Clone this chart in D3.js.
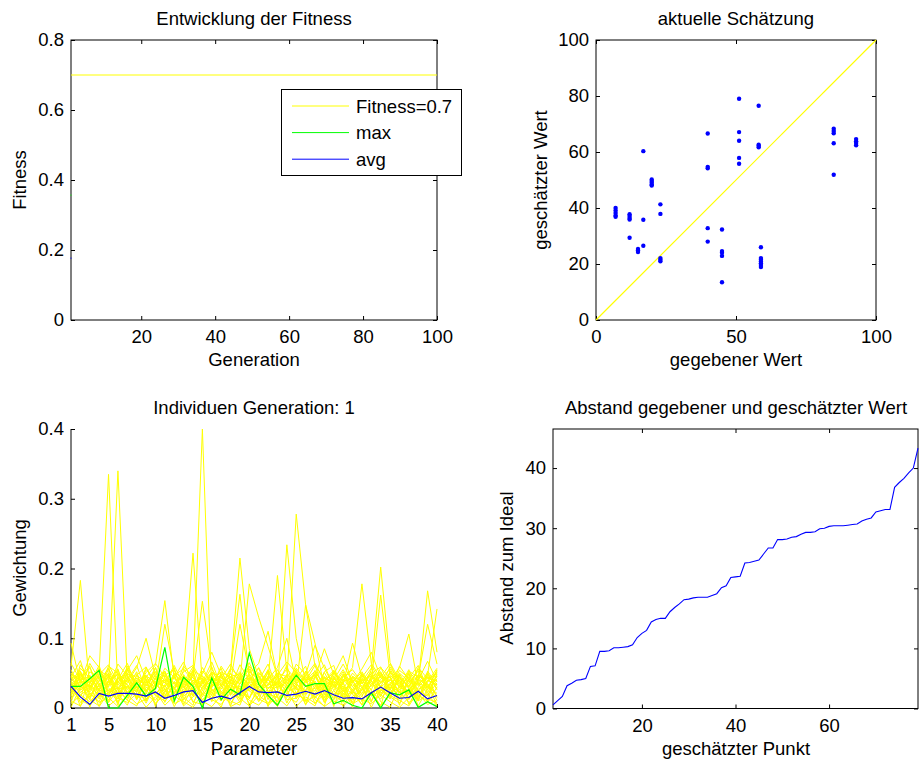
<!DOCTYPE html>
<html><head><meta charset="utf-8">
<script src="https://cdn.jsdelivr.net/npm/d3@7"></script>
<style>
body{margin:0;background:#fff}
svg text{font-family:"Liberation Sans",Arial,Helvetica,sans-serif;fill:#000}
</style>
</head><body>
<svg id="c" width="920" height="763"></svg>
<script>
// ---------- Data: top-left (Fitness) ----------
const fitnessGenDomain = [1, 100];
const fitnessTarget = 0.7;
const fitnessMaxHistory = [0.357];
const fitnessAvgHistory = [0.177];
const fitnessXTicks = [20, 40, 60, 80, 100];
const fitnessYTicks = [0, 0.2, 0.4, 0.6, 0.8];
const legendLabels = ["Fitness=0.7", "max", "avg"];

// ---------- Data: top-right (scatter) ----------
const givenValues = [
  7,7,7,7,7, 12,12,12,12,12, 15,15,15, 16.9,16.9,16.9, 19.9,19.9,19.9,19.9,19.9,
  23,23,23,23,23, 39.9,39.9,39.9,39.9,39.9, 45,45,45,45,45, 51.1,51.1,51.1,51.1,51.1,
  58.1,58.1,58.1,58.1, 58.9,58.9,58.9,58.9,58.9,58.9,58.9, 84.9,84.9,84.9,84.9,84.9,
  92.9,92.9,92.9,92.9];
const estimatedValues = [
  40.0,39.1,38.2,37.3,36.9, 37.8,37.1,36.4,35.9,29.4, 25.4,24.8,24.3, 60.3,35.8,26.5, 50.2,49.6,49.0,48.4,48.0,
  41.3,37.9,22.1,21.5,21.0, 66.6,54.7,54.2,32.8,28.0, 32.3,24.6,24.0,22.9,13.5, 79.0,67.1,64.0,57.9,55.8,
  76.5,62.6,62.2,61.7, 26.0,22.1,21.5,20.9,20.3,19.6,18.9, 68.3,67.5,66.7,63.1,51.9,
  64.6,63.8,63.2,62.4];
const scatterXTicks = [0, 50, 100];
const scatterYTicks = [0, 20, 40, 60, 80, 100];

// ---------- Data: bottom-left (individuals) ----------
const parameterXTicks = [1, 5, 10, 15, 20, 25, 30, 35, 40];
const weightYTicks = [0, 0.1, 0.2, 0.3, 0.4];
const individuals = [
[.021,.034,.012,.045,.008,.027,.031,.016,.042,.005,.024,.037,.019,.050,.400,.022,.011,.036,.028,.014,.047,.025,.009,.033,.018,.041,.006,.029,.038,.015,.023,.044,.010,.032,.020,.046,.013,.027,.035,.017],
[.045,.018,.030,.052,.335,.026,.011,.040,.023,.058,.014,.032,.047,.008,.029,.043,.020,.035,.012,.049,.027,.016,.039,.024,.055,.010,.031,.044,.019,.037,.006,.028,.050,.021,.034,.013,.042,.025,.017,.048],
[.030,.048,.022,.009,.038,.340,.041,.015,.033,.027,.050,.012,.036,.044,.020,.031,.057,.018,.042,.025,.011,.046,.029,.037,.016,.053,.034,.008,.043,.024,.039,.019,.032,.051,.014,.045,.028,.010,.040,.033],
[.012,.039,.046,.026,.019,.043,.028,.052,.010,.036,.031,.045,.017,.029,.038,.013,.048,.024,.034,.060,.020,.035,.046,.040,.278,.148,.093,.030,.015,.041,.026,.050,.018,.037,.045,.022,.033,.011,.049,.027],
[.055,.026,.033,.018,.047,.021,.060,.034,.025,.043,.008,.038,.029,.052,.016,.040,.032,.019,.044,.027,.051,.036,.022,.234,.100,.038,.047,.021,.035,.012,.046,.031,.040,.016,.053,.029,.024,.042,.019,.036],
[.037,.051,.015,.040,.029,.013,.045,.022,.058,.031,.042,.026,.054,.222,.035,.049,.017,.041,.023,.038,.030,.055,.014,.027,.044,.033,.019,.051,.025,.008,.040,.035,.052,.028,.017,.043,.031,.056,.022,.046],
[.024,.040,.058,.031,.045,.019,.036,.049,.013,.027,.053,.020,.041,.034,.046,.025,.030,.055,.215,.085,.044,.028,.037,.015,.052,.039,.061,.024,.042,.030,.020,.048,.035,.027,.013,.050,.038,.044,.029,.054],
[.048,.022,.035,.061,.017,.044,.026,.038,.047,.020,.033,.058,.011,.040,.028,.052,.034,.045,.016,.039,.057,.023,.031,.048,.036,.018,.043,.062,.029,.047,.038,.025,.055,.202,.065,.040,.021,.034,.046,.031],
[.018,.062,.041,.024,.056,.033,.049,.012,.037,.046,.022,.044,.030,.017,.053,.036,.045,.028,.050,.013,.042,.040,.190,.052,.026,.045,.031,.039,.054,.023,.035,.016,.047,.030,.059,.037,.020,.041,.033,.011],
[.060,.183,.027,.049,.036,.056,.018,.043,.031,.052,.039,.014,.048,.026,.034,.059,.022,.040,.035,.047,.017,.053,.029,.044,.033,.025,.050,.037,.012,.046,.031,.041,.026,.058,.043,.019,.036,.053,.030,.045],
[.033,.015,.052,.044,.025,.037,.057,.029,.046,.018,.040,.035,.026,.048,.011,.030,.042,.063,.038,.178,.130,.088,.045,.020,.039,.051,.027,.034,.048,.040,.058,.178,.064,.043,.037,.026,.049,.015,.038,.057],
[.041,.053,.019,.033,.050,.028,.040,.061,.024,.038,.047,.055,.021,.036,.043,.018,.051,.032,.027,.044,.036,.019,.055,.031,.042,.060,.014,.045,.033,.052,.024,.039,.046,.018,.034,.049,.028,.037,.168,.080],
[.027,.045,.060,.016,.039,.049,.032,.023,.055,.041,.030,.048,.037,.059,.025,.046,.012,.053,.163,.045,.028,.040,.033,.061,.020,.047,.036,.015,.051,.038,.043,.029,.037,.162,.048,.031,.055,.023,.044,.038],
[.050,.031,.023,.038,.057,.015,.050,.036,.044,.062,.154,.042,.029,.045,.153,.055,.038,.021,.047,.032,.040,.063,.026,.038,.049,.021,.054,.030,.045,.027,.050,.036,.020,.041,.056,.033,.024,.048,.037,.052],
[.016,.048,.036,.057,.022,.041,.064,.030,.020,.049,.036,.027,.060,.043,.031,.038,.052,.044,.035,.056,.024,.033,.050,.045,.028,.148,.060,.043,.036,.055,.030,.021,.044,.052,.025,.060,.041,.034,.047,.142],
[.038,.026,.064,.041,.033,.054,.021,.047,.059,.031,.120,.052,.040,.023,.058,.034,.027,.049,.041,.060,.045,.029,.038,.056,.041,.033,.024,.052,.061,.019,.045,.038,.057,.030,.041,.022,.053,.044,.120,.063],
[.064,.040,.030,.054,.045,.027,.055,.042,.033,.058,.025,.047,.056,.038,.020,.051,.043,.036,.120,.050,.064,.110,.044,.034,.057,.039,.048,.026,.040,.063,.037,.052,.031,.047,.039,.058,.106,.032,.051,.026],
[.020,.057,.043,.027,.060,.050,.037,.058,.100,.045,.036,.061,.032,.053,.046,.029,.060,.039,.052,.027,.049,.041,.058,.100,.035,.046,.064,.038,.051,.033,.093,.044,.062,.035,.050,.045,.030,.058,.042,.049],
[.093,.035,.075,.058,.030,.063,.046,.025,.051,.064,.044,.028,.052,.061,.037,.066,.031,.057,.044,.065,.033,.054,.040,.029,.063,.048,.090,.057,.031,.044,.055,.036,.049,.059,.028,.054,.043,.061,.026,.055],
[.044,.068,.025,.048,.062,.036,.054,.075,.040,.029,.057,.044,.066,.033,.049,.080,.047,.028,.062,.040,.058,.032,.047,.066,.051,.036,.044,.085,.048,.075,.036,.056,.080,.044,.063,.035,.051,.040,.067,.038],
[.010,.003,.021,.008,.015,.002,.019,.006,.013,.024,.004,.017,.009,.001,.020,.012,.005,.022,.014,.003,.018,.008,.011,.025,.002,.016,.007,.020,.010,.004,.023,.013,.006,.019,.009,.001,.015,.021,.005,.012],
[.005,.019,.009,.024,.003,.014,.008,.021,.001,.016,.027,.006,.013,.022,.010,.002,.018,.007,.025,.011,.004,.020,.015,.003,.023,.009,.017,.002,.012,.026,.006,.014,.021,.004,.018,.011,.003,.024,.013,.008],
[.028,.012,.004,.017,.026,.009,.031,.014,.022,.007,.019,.030,.003,.016,.025,.011,.034,.002,.009,.029,.013,.006,.024,.018,.008,.032,.015,.027,.005,.021,.012,.030,.001,.026,.016,.007,.028,.010,.020,.003],
[.014,.026,.033,.002,.022,.029,.011,.003,.030,.018,.010,.024,.031,.009,.005,.027,.016,.013,.032,.006,.025,.017,.002,.029,.020,.012,.003,.033,.018,.009,.027,.004,.022,.013,.030,.024,.008,.016,.031,.021],
[.036,.008,.017,.032,.011,.038,.023,.030,.007,.035,.020,.013,.039,.027,.006,.035,.024,.010,.004,.037,.009,.028,.036,.012,.014,.026,.039,.011,.033,.002,.017,.025,.040,.009,.001,.032,.019,.037,.008,.030],
[.001,.030,.038,.013,.040,.020,.004,.036,.026,.011,.033,.002,.024,.040,.032,.018,.001,.038,.027,.015,.036,.003,.019,.041,.030,.005,.022,.014,.038,.028,.001,.041,.017,.024,.035,.013,.040,.003,.027,.042],
[.024,.044,.001,.036,.008,.045,.034,.017,.040,.002,.046,.036,.015,.004,.042,.021,.040,.030,.008,.043,.019,.044,.005,.035,.047,.020,.029,.044,.002,.039,.041,.009,.035,.045,.022,.040,.012,.047,.034,.004],
[.040,.002,.047,.025,.050,.007,.042,.012,.046,.037,.015,.050,.005,.032,.040,.009,.049,.003,.036,.024,.046,.012,.044,.007,.036,.043,.012,.003,.046,.016,.044,.031,.008,.050,.026,.047,.005,.030,.045,.015],
[.050,.040,.012,.003,.034,.049,.014,.047,.036,.052,.027,.008,.046,.018,.037,.051,.010,.045,.049,.002,.032,.050,.016,.048,.013,.039,.053,.008,.025,.049,.020,.005,.044,.038,.046,.004,.050,.018,.010,.051],
[.007,.052,.029,.046,.041,.004,.055,.026,.010,.044,.052,.022,.034,.055,.003,.044,.035,.050,.019,.052,.041,.002,.050,.038,.052,.004,.046,.019,.054,.032,.008,.049,.025,.002,.053,.029,.045,.011,.053,.033]
];
const bestIndividual = [.031,.031,.042,.054,0,0,.018,.036,.017,.028,.087,.010,.044,.031,0,.043,.012,.027,.019,.079,.034,.018,.004,.028,.047,.031,.035,.035,.006,.011,.004,0,.022,0,.022,.019,.026,.001,.009,.002];
const averageIndividual = [.031,.016,.005,.021,.017,.021,.021,.020,.017,.023,.014,.018,.023,.025,.008,.014,.017,.013,.022,.031,.023,.022,.023,.018,.020,.024,.020,.025,.019,.014,.015,.013,.022,.030,.022,.014,.015,.024,.013,.018];

// ---------- Data: bottom-right (sorted distance) ----------
const distances = [0.6,1.3,2.0,3.8,4.2,4.7,4.8,5.0,7.0,7.1,9.5,9.5,9.6,10.1,10.1,10.2,10.3,10.6,11.8,12.5,
  13.0,14.4,14.8,15.0,15.0,16.1,16.8,17.4,18.1,18.2,18.4,18.5,18.5,18.5,18.8,19.1,20.1,20.4,21.8,21.9,
  22.0,24.2,24.3,24.5,24.7,25.7,26.7,26.7,28.1,28.1,28.2,28.5,28.6,29.0,29.3,29.3,29.4,29.9,30.0,30.3,
  30.4,30.4,30.4,30.5,30.6,30.7,31.2,31.5,31.7,32.7,32.9,33.1,33.1,36.8,37.6,38.3,39.2,40.0,43.3];
const distXTicks = [20, 40, 60];
const distYTicks = [0, 10, 20, 30, 40];
const distYMax = 46.5;

// ---------- Drawing ----------
const svg = d3.select("#c");
const FS = "18.5px";
const TL = 4;

function addText(x, y, str, opts = {}) {
  const t = svg.append("text").attr("x", x).attr("y", y).text(str)
    .style("font-size", opts.size || FS)
    .attr("text-anchor", opts.anchor || "middle");
  if (opts.rotate) t.attr("transform", `rotate(-90,${x},${y})`);
  return t;
}

function styleAxis(g) {
  g.select(".domain").remove();
  g.selectAll(".tick line").attr("stroke", "#000");
  g.selectAll(".tick text").style("font-size", FS).attr("fill", "#000")
    .style("font-family", '"Liberation Sans",Arial,sans-serif');
}

function boxAxes(x, y, xt, yt, fmtX, fmtY) {
  const [x0, x1] = x.range(), [y0, y1] = y.range();
  svg.append("g").attr("transform", `translate(0,${y0})`)
    .call(d3.axisBottom(x).tickValues(xt).tickSizeInner(-TL).tickSizeOuter(0).tickPadding(10).tickFormat(fmtX || (d => d)))
    .call(styleAxis);
  svg.append("g").attr("transform", `translate(0,${y1})`)
    .call(d3.axisTop(x).tickValues(xt).tickSizeInner(-TL).tickSizeOuter(0).tickFormat(""))
    .call(styleAxis);
  svg.append("g").attr("transform", `translate(${x0},0)`)
    .call(d3.axisLeft(y).tickValues(yt).tickSizeInner(-TL).tickSizeOuter(0).tickPadding(7).tickFormat(fmtY || (d => d)))
    .call(styleAxis);
  svg.append("g").attr("transform", `translate(${x1},0)`)
    .call(d3.axisRight(y).tickValues(yt).tickSizeInner(-TL).tickSizeOuter(0).tickFormat(""))
    .call(styleAxis);
  svg.append("rect").attr("x", x0).attr("y", y1).attr("width", x1 - x0).attr("height", y0 - y1)
    .attr("fill", "none").attr("stroke", "#000").attr("stroke-width", 1);
}

// ===== Top-left =====
{
  const x = d3.scaleLinear().domain(fitnessGenDomain).range([71, 437]);
  const y = d3.scaleLinear().domain([0, 0.8]).range([320, 40]);
  boxAxes(x, y, fitnessXTicks, fitnessYTicks);
  svg.append("line").attr("x1", x(fitnessGenDomain[0])).attr("x2", x(fitnessGenDomain[1]))
    .attr("y1", y(fitnessTarget)).attr("y2", y(fitnessTarget)).attr("stroke", "#ffff00").attr("stroke-width", 1);
  svg.append("circle").attr("cx", x(1)).attr("cy", y(fitnessMaxHistory[0])).attr("r", 0.6).attr("fill", "#00ff00");
  svg.append("circle").attr("cx", x(1)).attr("cy", y(fitnessAvgHistory[0])).attr("r", 0.6).attr("fill", "#0000ff");
  addText(254, 25, "Entwicklung der Fitness");
  addText(254, 366, "Generation");
  addText(26, 180, "Fitness", { rotate: true });
  // legend
  const lg = svg.append("g");
  lg.append("rect").attr("x", 281.5).attr("y", 89.5).attr("width", 180).attr("height", 86)
    .attr("fill", "#fff").attr("stroke", "#000").attr("stroke-width", 1);
  const cols = ["#ffff00", "#00ff00", "#0000ff"];
  legendLabels.forEach((lab, i) => {
    const ly = 106 + i * 26.6;
    lg.append("line").attr("x1", 292).attr("x2", 349).attr("y1", ly).attr("y2", ly)
      .attr("stroke", cols[i]).attr("stroke-width", 1);
    addText(356, ly + 6.5, lab, { anchor: "start" });
  });
}

// ===== Top-right =====
{
  const x = d3.scaleLinear().domain([0, 100]).range([596, 876]);
  const y = d3.scaleLinear().domain([0, 100]).range([320, 40]);
  boxAxes(x, y, scatterXTicks, scatterYTicks);
  svg.append("line").attr("x1", x(0)).attr("y1", y(0)).attr("x2", x(100)).attr("y2", y(100))
    .attr("stroke", "#ffff00").attr("stroke-width", 1.2);
  svg.append("g").selectAll("circle").data(givenValues).join("circle")
    .attr("cx", d => x(d)).attr("cy", (d, i) => y(estimatedValues[i])).attr("r", 2.2).attr("fill", "#0000ff");
  addText(736, 25, "aktuelle Schätzung");
  addText(736, 366, "gegebener Wert");
  addText(547, 180, "geschätzter Wert", { rotate: true });
}

// ===== Bottom-left =====
{
  const params = d3.range(1, 41);
  const x = d3.scaleLinear().domain([1, 40]).range([71, 437]);
  const y = d3.scaleLinear().domain([0, 0.4]).range([708, 429]);
  svg.append("g").attr("transform", "translate(0,708)")
    .call(d3.axisBottom(x).tickValues(parameterXTicks).tickSizeInner(-TL).tickSizeOuter(0).tickPadding(10).tickFormat(d => d))
    .call(g => { g.select(".domain").attr("stroke", "#000").attr("d", "M71,0H437"); g.selectAll(".tick line").attr("stroke", "#000");
      g.selectAll(".tick text").style("font-size", FS).attr("fill", "#000"); });
  svg.append("g").attr("transform", "translate(71,0)")
    .call(d3.axisLeft(y).tickValues(weightYTicks).tickSizeInner(-TL).tickSizeOuter(0).tickPadding(7).tickFormat(d => d))
    .call(g => { g.select(".domain").attr("stroke", "#000").attr("d", "M0,429V708"); g.selectAll(".tick line").attr("stroke", "#000");
      g.selectAll(".tick text").style("font-size", FS).attr("fill", "#000"); });
  const line = d3.line().x((d, i) => x(params[i])).y(d => y(d));
  svg.append("g").selectAll("path").data(individuals).join("path")
    .attr("d", line).attr("fill", "none").attr("stroke", "#ffff00").attr("stroke-width", 1);
  svg.append("path").attr("d", line(bestIndividual)).attr("fill", "none").attr("stroke", "#00ff00").attr("stroke-width", 1.2);
  svg.append("path").attr("d", line(averageIndividual)).attr("fill", "none").attr("stroke", "#0000ff").attr("stroke-width", 1.2);
  addText(254, 414, "Individuen Generation: 1");
  addText(254, 755, "Parameter");
  addText(26, 568, "Gewichtung", { rotate: true });
}

// ===== Bottom-right =====
{
  const x = d3.scaleLinear().domain([1, distances.length]).range([553, 918]);
  const y = d3.scaleLinear().domain([0, distYMax]).range([708.5, 429]);
  boxAxes(x, y, distXTicks, distYTicks);
  const line = d3.line().x((d, i) => x(i + 1)).y(d => y(d));
  svg.append("path").attr("d", line(distances)).attr("fill", "none").attr("stroke", "#0000ff").attr("stroke-width", 1.1);
  addText(736, 414, "Abstand gegebener und geschätzter Wert");
  addText(736, 755, "geschätzter Punkt");
  addText(513, 568, "Abstand zum Ideal", { rotate: true });
}
</script>
</body></html>
